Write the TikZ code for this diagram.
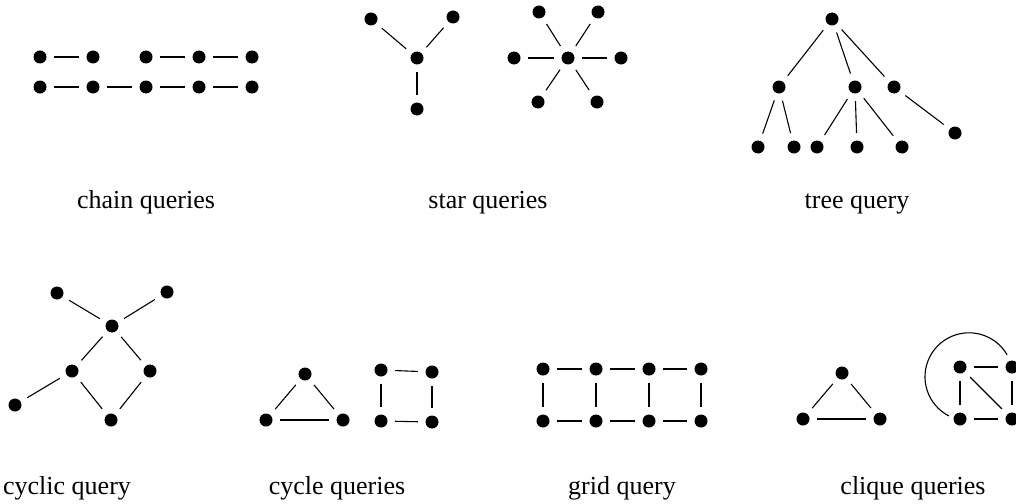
\documentclass[tikz,border=0pt]{standalone}
\usepackage{fontspec}
\setmainfont{Liberation Serif}
\begin{document}
\begin{tikzpicture}[x=1pt,y=-1pt,
  dot/.style={circle,fill=black,inner sep=0pt,minimum size=13pt},
  ln/.style={draw,line width=1.1pt,shorten >=7.5pt,shorten <=7.5pt},
  lab/.style={font=\fontsize{26}{30}\selectfont,anchor=base}]
\useasboundingbox (0,0) rectangle (1016,503);
% chain queries
\foreach \i/\x in {1/40,2/93,3/146,4/199,5/252}{
  \node[dot] (a\i) at (\x,57) {};
  \node[dot] (b\i) at (\x,87) {};}
\path (a1) edge[ln] (a2) (a3) edge[ln] (a4) (a4) edge[ln] (a5);
\path (b1) edge[ln] (b2) (b2) edge[ln] (b3) (b3) edge[ln] (b4) (b4) edge[ln] (b5);
\node[lab] (l1) at (146,208) {chain queries};
% star queries
\node[dot] (s1c) at (417,58) {};
\node[dot] (s1a) at (371,19) {};
\node[dot] (s1b) at (453,17) {};
\node[dot] (s1d) at (417,109) {};
\path (s1c) edge[ln] (s1a) edge[ln] (s1b) edge[ln] (s1d);
\node[dot] (s2c) at (568,58) {};
\node[dot] (s2a) at (539,12) {};
\node[dot] (s2b) at (598,12) {};
\node[dot] (s2l) at (514,58) {};
\node[dot] (s2r) at (621,58) {};
\node[dot] (s2d) at (538,102) {};
\node[dot] (s2e) at (597,102) {};
\path (s2c) edge[ln] (s2a) edge[ln] (s2b) edge[ln] (s2l) edge[ln] (s2r) edge[ln] (s2d) edge[ln] (s2e);
\node[lab] (l2) at (488,208) {star queries};
% tree query
\node[dot] (t0) at (832,19) {};
\node[dot] (t1) at (779,87) {};
\node[dot] (t2) at (855,87) {};
\node[dot] (t3) at (894,87) {};
\node[dot] (t11) at (758,147) {};
\node[dot] (t12) at (794,147) {};
\node[dot] (t21) at (817,147) {};
\node[dot] (t22) at (857,147) {};
\node[dot] (t23) at (902,147) {};
\node[dot] (t31) at (955,133) {};
\path (t0) edge[ln] (t1) edge[ln] (t2) edge[ln] (t3);
\path (t1) edge[ln] (t11) edge[ln] (t12);
\path (t2) edge[ln] (t21) edge[ln] (t22) edge[ln] (t23);
\path (t3) edge[ln] (t31);
\node[lab] (l3) at (857,208) {tree query};
% cyclic query
\node[dot] (c1) at (57,293) {};
\node[dot] (c2) at (167,292) {};
\node[dot] (c3) at (112,326) {};
\node[dot] (c4) at (72,371) {};
\node[dot] (c5) at (150,371) {};
\node[dot] (c6) at (15,405) {};
\node[dot] (c7) at (111,420) {};
\path (c3) edge[ln] (c1) edge[ln] (c2) edge[ln] (c4) edge[ln] (c5);
\path (c4) edge[ln] (c6) edge[ln] (c7);
\path (c5) edge[ln] (c7);
\node[lab] (l4) at (67,494) {cyclic query};
% cycle queries
\node[dot] (y1) at (305,374) {};
\node[dot] (y2) at (266,420) {};
\node[dot] (y3) at (343,420) {};
\path (y1) edge[ln] (y2) edge[ln] (y3) (y2) edge[ln] (y3);
\node[dot] (q1) at (381,370) {};
\node[dot] (q2) at (432,372) {};
\node[dot] (q3) at (381,421) {};
\node[dot] (q4) at (432,422) {};
\path (q1) edge[ln] (q2) edge[ln] (q3) (q4) edge[ln] (q2) edge[ln] (q3);
\node[lab] (l5) at (337,494) {cycle queries};
% grid query
\foreach \i/\x in {1/543,2/596,3/649,4/701}{
  \node[dot] (gt\i) at (\x,369) {};
  \node[dot] (gb\i) at (\x,421) {};
  \path (gt\i) edge[ln] (gb\i);}
\path (gt1) edge[ln] (gt2) (gt2) edge[ln] (gt3) (gt3) edge[ln] (gt4);
\path (gb1) edge[ln] (gb2) (gb2) edge[ln] (gb3) (gb3) edge[ln] (gb4);
\node[lab] (l6) at (622,494) {grid query};
% clique queries
\node[dot] (k1) at (842,373) {};
\node[dot] (k2) at (803,419) {};
\node[dot] (k3) at (880,419) {};
\path (k1) edge[ln] (k2) edge[ln] (k3) (k2) edge[ln] (k3);
\node[dot] (m1) at (960,367) {};
\node[dot] (m2) at (1012,367) {};
\node[dot] (m3) at (960,419) {};
\node[dot] (m4) at (1012,419) {};
\path (m1) edge[ln] (m2) edge[ln] (m3) edge[ln] (m4) (m4) edge[ln] (m2) edge[ln] (m3);
\coordinate (arcstart) at (949,416);
\draw[line width=1.1pt] (arcstart) arc[start angle=117,end angle=330,radius=44];
\node[lab] (l7) at (913,494) {clique queries};
\end{tikzpicture}
\end{document}
